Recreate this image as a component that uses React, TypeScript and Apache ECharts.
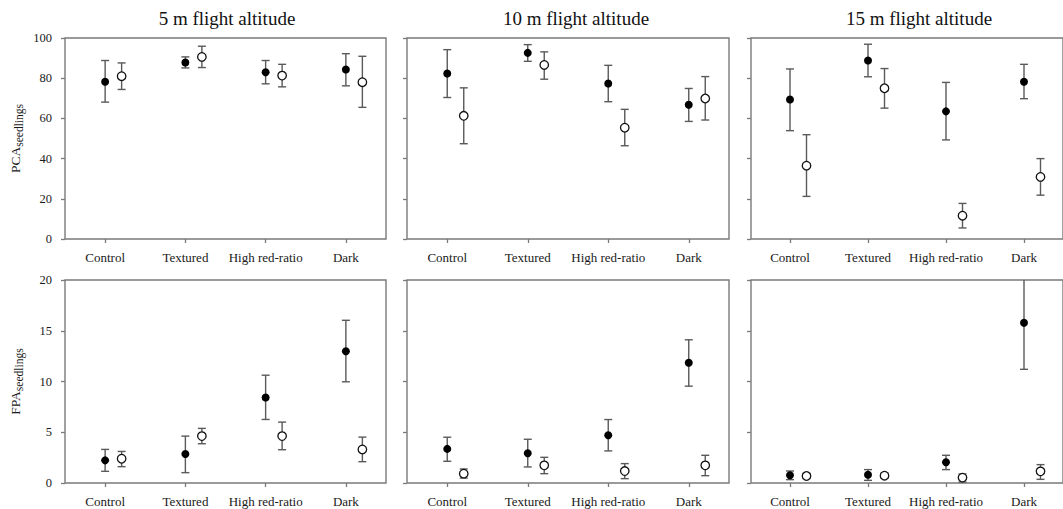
import React, { useEffect, useRef } from "react";
import * as echarts from "echarts";

const categories = ["Control", "Textured", "High red-ratio", "Dark"];
const panelTitles = ["5 m flight altitude", "10 m flight altitude", "15 m flight altitude"];
const pcaTicks = [0, 20, 40, 60, 80, 100];
const fpaTicks = [0, 5, 10, 15, 20];

// PCA seedlings, 5 m
const pca5FilledMean = [78.2, 87.8, 83.0, 84.3];
const pca5FilledLow = [68.1, 85.1, 77.2, 76.2];
const pca5FilledHigh = [88.8, 90.6, 88.8, 92.2];
const pca5OpenMean = [81.0, 90.6, 81.3, 78.0];
const pca5OpenLow = [74.4, 85.3, 75.7, 65.5];
const pca5OpenHigh = [87.6, 95.9, 86.9, 90.9];
// PCA seedlings, 10 m
const pca10FilledMean = [82.3, 92.6, 77.4, 66.8];
const pca10FilledLow = [70.4, 88.4, 68.3, 58.5];
const pca10FilledHigh = [94.2, 96.7, 86.4, 74.9];
const pca10OpenMean = [61.3, 86.6, 55.4, 69.9];
const pca10OpenLow = [47.4, 79.5, 46.4, 59.2];
const pca10OpenHigh = [75.2, 93.1, 64.5, 80.8];
// PCA seedlings, 15 m
const pca15FilledMean = [69.4, 88.8, 63.5, 78.2];
const pca15FilledLow = [53.9, 80.7, 49.3, 69.8];
const pca15FilledHigh = [84.6, 96.9, 77.9, 86.9];
const pca15OpenMean = [36.5, 75.0, 11.6, 30.9];
const pca15OpenLow = [21.2, 65.1, 5.5, 21.8];
const pca15OpenHigh = [51.9, 84.8, 17.7, 40.0];
// FPA seedlings, 5 m
const fpa5FilledMean = [2.23, 2.85, 8.43, 12.98];
const fpa5FilledLow = [1.15, 1.02, 6.26, 9.97];
const fpa5FilledHigh = [3.31, 4.62, 10.62, 16.03];
const fpa5OpenMean = [2.39, 4.62, 4.62, 3.31];
const fpa5OpenLow = [1.61, 3.87, 3.28, 2.1];
const fpa5OpenHigh = [3.11, 5.38, 6.0, 4.52];
// FPA seedlings, 10 m
const fpa10FilledMean = [3.36, 2.93, 4.7, 11.84];
const fpa10FilledLow = [2.14, 1.58, 3.16, 9.54];
const fpa10FilledHigh = [4.51, 4.31, 6.25, 14.11];
const fpa10OpenMean = [0.92, 1.74, 1.18, 1.74];
const fpa10OpenLow = [0.49, 0.92, 0.43, 0.72];
const fpa10OpenHigh = [1.38, 2.53, 1.91, 2.73];
// FPA seedlings, 15 m
const fpa15FilledMean = [0.76, 0.82, 2.04, 15.79];
const fpa15FilledLow = [0.33, 0.26, 1.32, 11.2];
const fpa15FilledHigh = [1.18, 1.32, 2.73, 20.4];
const fpa15OpenMean = [0.69, 0.72, 0.53, 1.15];
const fpa15OpenLow = [0.43, 0.49, 0.1, 0.36];
const fpa15OpenHigh = [0.95, 0.99, 0.89, 1.81];

const panels = [
  { fm: pca5FilledMean, fl: pca5FilledLow, fh: pca5FilledHigh, om: pca5OpenMean, ol: pca5OpenLow, oh: pca5OpenHigh, ticks: pcaTicks },
  { fm: pca10FilledMean, fl: pca10FilledLow, fh: pca10FilledHigh, om: pca10OpenMean, ol: pca10OpenLow, oh: pca10OpenHigh, ticks: pcaTicks },
  { fm: pca15FilledMean, fl: pca15FilledLow, fh: pca15FilledHigh, om: pca15OpenMean, ol: pca15OpenLow, oh: pca15OpenHigh, ticks: pcaTicks },
  { fm: fpa5FilledMean, fl: fpa5FilledLow, fh: fpa5FilledHigh, om: fpa5OpenMean, ol: fpa5OpenLow, oh: fpa5OpenHigh, ticks: fpaTicks },
  { fm: fpa10FilledMean, fl: fpa10FilledLow, fh: fpa10FilledHigh, om: fpa10OpenMean, ol: fpa10OpenLow, oh: fpa10OpenHigh, ticks: fpaTicks },
  { fm: fpa15FilledMean, fl: fpa15FilledLow, fh: fpa15FilledHigh, om: fpa15OpenMean, ol: fpa15OpenLow, oh: fpa15OpenHigh, ticks: fpaTicks },
];

const FONT = "'Liberation Serif', 'Times New Roman', serif";
const AXIS_COLOR = "#7a7a7a";
const BAR_COLOR = "#5a5a5a";
const OPEN_OFFSET = 16.5;

const gridLayout = [
  { left: 65, top: 38, width: 321, height: 201 },
  { left: 407, top: 38, width: 322, height: 201 },
  { left: 751, top: 38, width: 322, height: 201 },
  { left: 65, top: 280, width: 321, height: 203 },
  { left: 407, top: 280, width: 322, height: 203 },
  { left: 751, top: 280, width: 322, height: 203 },
];
const titleX = [227, 576, 919];

function errRenderer(offset: number) {
  return (params: any, api: any) => {
    const x = api.value(0);
    const pLo = api.coord([x, api.value(1)]);
    const pHi = api.coord([x, api.value(2)]);
    const cx = pLo[0] + offset;
    const style = { stroke: BAR_COLOR, lineWidth: 1.4 };
    return {
      type: "group",
      children: [
        { type: "line", shape: { x1: cx, y1: pLo[1], x2: cx, y2: pHi[1] }, style },
        { type: "line", shape: { x1: cx - 4, y1: pLo[1], x2: cx + 4, y2: pLo[1] }, style },
        { type: "line", shape: { x1: cx - 4, y1: pHi[1], x2: cx + 4, y2: pHi[1] }, style },
      ],
    };
  };
}

export default function App() {
  const ref = useRef<HTMLDivElement>(null);
  useEffect(() => {
    if (!ref.current) return;
    const chart = echarts.init(ref.current, undefined, { renderer: "svg" });
    const grid: any[] = [];
    const xAxis: any[] = [];
    const yAxis: any[] = [];
    const series: any[] = [];
    panels.forEach((p, i) => {
      const isLeft = i % 3 === 0;
      const isTop = i < 3;
      grid.push({
        ...gridLayout[i],
        show: true,
        borderColor: AXIS_COLOR,
        borderWidth: 1.4,
        backgroundColor: "transparent",
        containLabel: false,
      });
      xAxis.push({
        type: "category",
        gridIndex: i,
        data: categories,
        boundaryGap: true,
        axisLine: { show: false },
        axisTick: { show: true, alignWithLabel: true, length: 4, lineStyle: { color: AXIS_COLOR, width: 1.3 } },
        axisLabel: { show: true, interval: 0, margin: 12, fontFamily: FONT, fontSize: 13, color: "#1a1a1a" },
        splitLine: { show: false },
      });
      const tks = p.ticks;
      const nameText = isTop ? "{main|PCA}{sub|seedlings}" : "{main|FPA}{sub|seedlings}";
      yAxis.push({
        type: "value",
        gridIndex: i,
        min: tks[0],
        max: tks[tks.length - 1],
        interval: tks[1] - tks[0],
        axisLine: { show: false },
        axisTick: { show: true, length: 4, lineStyle: { color: AXIS_COLOR, width: 1.3 } },
        axisLabel: { show: isLeft, margin: 13, fontFamily: FONT, fontSize: 12.5, color: "#1a1a1a" },
        splitLine: { show: false },
        name: isLeft ? nameText : "",
        nameLocation: "middle",
        nameRotate: 90,
        nameGap: 40,
        nameTextStyle: {
          fontFamily: FONT,
          color: "#1a1a1a",
          rich: {
            main: { fontFamily: FONT, fontSize: 13.5, lineHeight: 20, color: "#1a1a1a" },
            sub: { fontFamily: FONT, fontSize: 11.5, lineHeight: 12, verticalAlign: "bottom", color: "#1a1a1a" },
          },
        },
      });
      const filledErr = p.fm.map((_, k) => [k, p.fl[k], p.fh[k]]);
      const openErr = p.om.map((_, k) => [k, p.ol[k], p.oh[k]]);
      series.push({
        type: "custom",
        xAxisIndex: i,
        yAxisIndex: i,
        renderItem: errRenderer(0),
        data: filledErr,
        clip: true,
        z: 2,
        encode: { x: 0, y: [1, 2] },
      });
      series.push({
        type: "custom",
        xAxisIndex: i,
        yAxisIndex: i,
        renderItem: errRenderer(OPEN_OFFSET),
        data: openErr,
        clip: true,
        z: 2,
        encode: { x: 0, y: [1, 2] },
      });
      series.push({
        type: "scatter",
        xAxisIndex: i,
        yAxisIndex: i,
        data: p.fm,
        symbol: "circle",
        symbolSize: 8,
        itemStyle: { color: "#000", opacity: 1 },
        z: 3,
      });
      series.push({
        type: "scatter",
        xAxisIndex: i,
        yAxisIndex: i,
        data: p.om,
        symbol: "circle",
        symbolSize: 8.5,
        symbolOffset: [OPEN_OFFSET, 0],
        itemStyle: { color: "#fff", borderColor: "#111", borderWidth: 1.3, opacity: 1 },
        z: 3,
      });
    });
    const graphic = panelTitles.map((t, i) => ({
      type: "text",
      x: titleX[i],
      y: 18,
      style: {
        text: t,
        font: `19px ${FONT}`,
        fill: "#111",
        textAlign: "center",
        textVerticalAlign: "middle",
        align: "center",
        verticalAlign: "middle",
      },
    }));
    chart.setOption({
      animation: false,
      backgroundColor: "#fff",
      grid,
      xAxis,
      yAxis,
      series,
      graphic,
    });
    return () => chart.dispose();
  }, []);
  return (
    <div
      ref={ref}
      style={{ position: "fixed", left: 0, top: 0, width: 1063, height: 509 }}
    />
  );
}
